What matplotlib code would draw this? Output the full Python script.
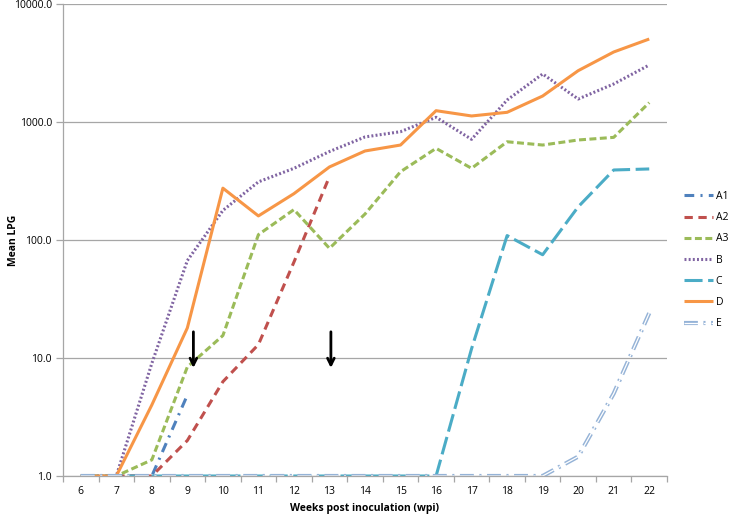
import numpy as np
import matplotlib
matplotlib.use("Agg")
import matplotlib.pyplot as plt
import matplotlib.patheffects as pe

plt.rcParams["font.family"] = ["Open Sans", "DejaVu Sans"]
plt.rcParams["lines.scale_dashes"] = False

weeks = list(range(6, 23))
nan = np.nan

# Mean LPG per group
a1 = [1, 1, 1, 4.85, nan, nan, nan, nan, nan, nan, nan, nan, nan, nan, nan, nan, nan]
a2 = [nan, 1, 1, 2.0, 6.3, 13, 65, 345, nan, nan, nan, nan, nan, nan, nan, nan, nan]
a3 = [1, 1, 1.37, 8.4, 15.5, 111, 181, 85, 166, 379, 598, 405, 680, 638, 704, 741, 1459]
b = [1, 1, 9.0, 67, 178, 311, 405, 562, 747, 828, 1096, 713, 1536, 2553, 1566, 2100, 3041]
c = [1, 1, 1, 1, 1, 1, 1, 1, 1, 1, 1, 12, 109, 75, 191, 392, 400]
d = [1, 1, 4.0, 18, 275, 160, 247, 416, 568, 638, 1247, 1125, 1208, 1660, 2722, 3920, 5050]
e = [1, 1, 1, 1, 1, 1, 1, 1, 1, 1, 1, 1, 1, 1, 1.46, 5.0, 24]

series = [
    ("A1", a1, "#4F81BD", (0, (7, 4.5, 1.5, 4.5))),
    ("A2", a2, "#C0504D", (0, (6, 4))),
    ("A3", a3, "#9BBB59", (0, (5, 2.5))),
    ("B", b, "#8064A2", (0, (1.4, 1.6))),
    ("C", c, "#4BACC6", (0, (13, 4))),
    ("D", d, "#F79646", "-"),
    ("E", e, "#95B3D7", (0, (10, 4, 1.5, 4))),
]

fig = plt.figure(figsize=(7.31, 5.15), dpi=100)
ax = fig.add_axes([63 / 731, 1 - 476 / 515, (667 - 63) / 731, (476 - 4) / 515])

handles = []
for name, vals, color, ls in series:
    if name == "E":
        # double compound line: light blue outline with white core
        line, = ax.plot(weeks, vals, color="white", lw=0.9, linestyle=ls, label=name,
                        path_effects=[pe.Stroke(linewidth=3.0, foreground=color), pe.Normal()])
    else:
        line, = ax.plot(weeks, vals, color=color, lw=2.2, linestyle=ls, label=name,
                        solid_capstyle="butt", dash_capstyle="butt")
    handles.append(line)

ax.set_yscale("log")
ax.set_ylim(1, 10000)
ax.set_xlim(5.5, 22.5)
yt = [1, 10, 100, 1000, 10000]
ax.set_yticks(yt)
ax.set_yticklabels([f"{v:.1f}" for v in yt])
ax.yaxis.set_minor_locator(matplotlib.ticker.NullLocator())
ax.set_xticks(np.arange(5.5, 23.0, 1.0))
ax.set_xticklabels([])
ax.set_xticks(weeks, minor=True)
ax.set_xticklabels([str(w) for w in weeks], minor=True)
ax.tick_params(axis="x", which="major", length=4, width=0.9, color="#A6A6A6", direction="out")
ax.tick_params(axis="x", which="minor", length=0, labelsize=7.5, pad=7)
ax.tick_params(axis="y", which="major", length=5, width=0.9, color="#A6A6A6", labelsize=7.5, pad=3)

ax.grid(axis="y", which="major", color="#A6A6A6", lw=0.9)
ax.set_axisbelow(True)
for s in ["top", "right"]:
    ax.spines[s].set_visible(False)
for s in ["left", "bottom"]:
    ax.spines[s].set_color("#A6A6A6")
    ax.spines[s].set_linewidth(0.9)

# arrows marking treatment weeks
for xa in [9.17, 13.04]:
    ax.annotate("", xy=(xa, 7.8), xytext=(xa, 17.6),
                arrowprops=dict(arrowstyle="->", color="black", lw=2, mutation_scale=12))

fig.text(14 / 731, 1 - 240 / 515, "Mean LPG", rotation=90, ha="center", va="center",
         fontsize=7.5, fontweight="bold")
fig.text(365 / 731, 1 - 508 / 515, "Weeks post inoculation (wpi)", ha="center", va="center",
         fontsize=7.5, fontweight="bold")

fig.legend(handles=handles, loc="upper left", bbox_to_anchor=(684 / 731, 1 - 191 / 515),
           frameon=False, fontsize=7.5, handlelength=2.8, handletextpad=0.25,
           labelspacing=0.98, borderpad=0, borderaxespad=0)

fig.savefig("out.png", dpi=100)
